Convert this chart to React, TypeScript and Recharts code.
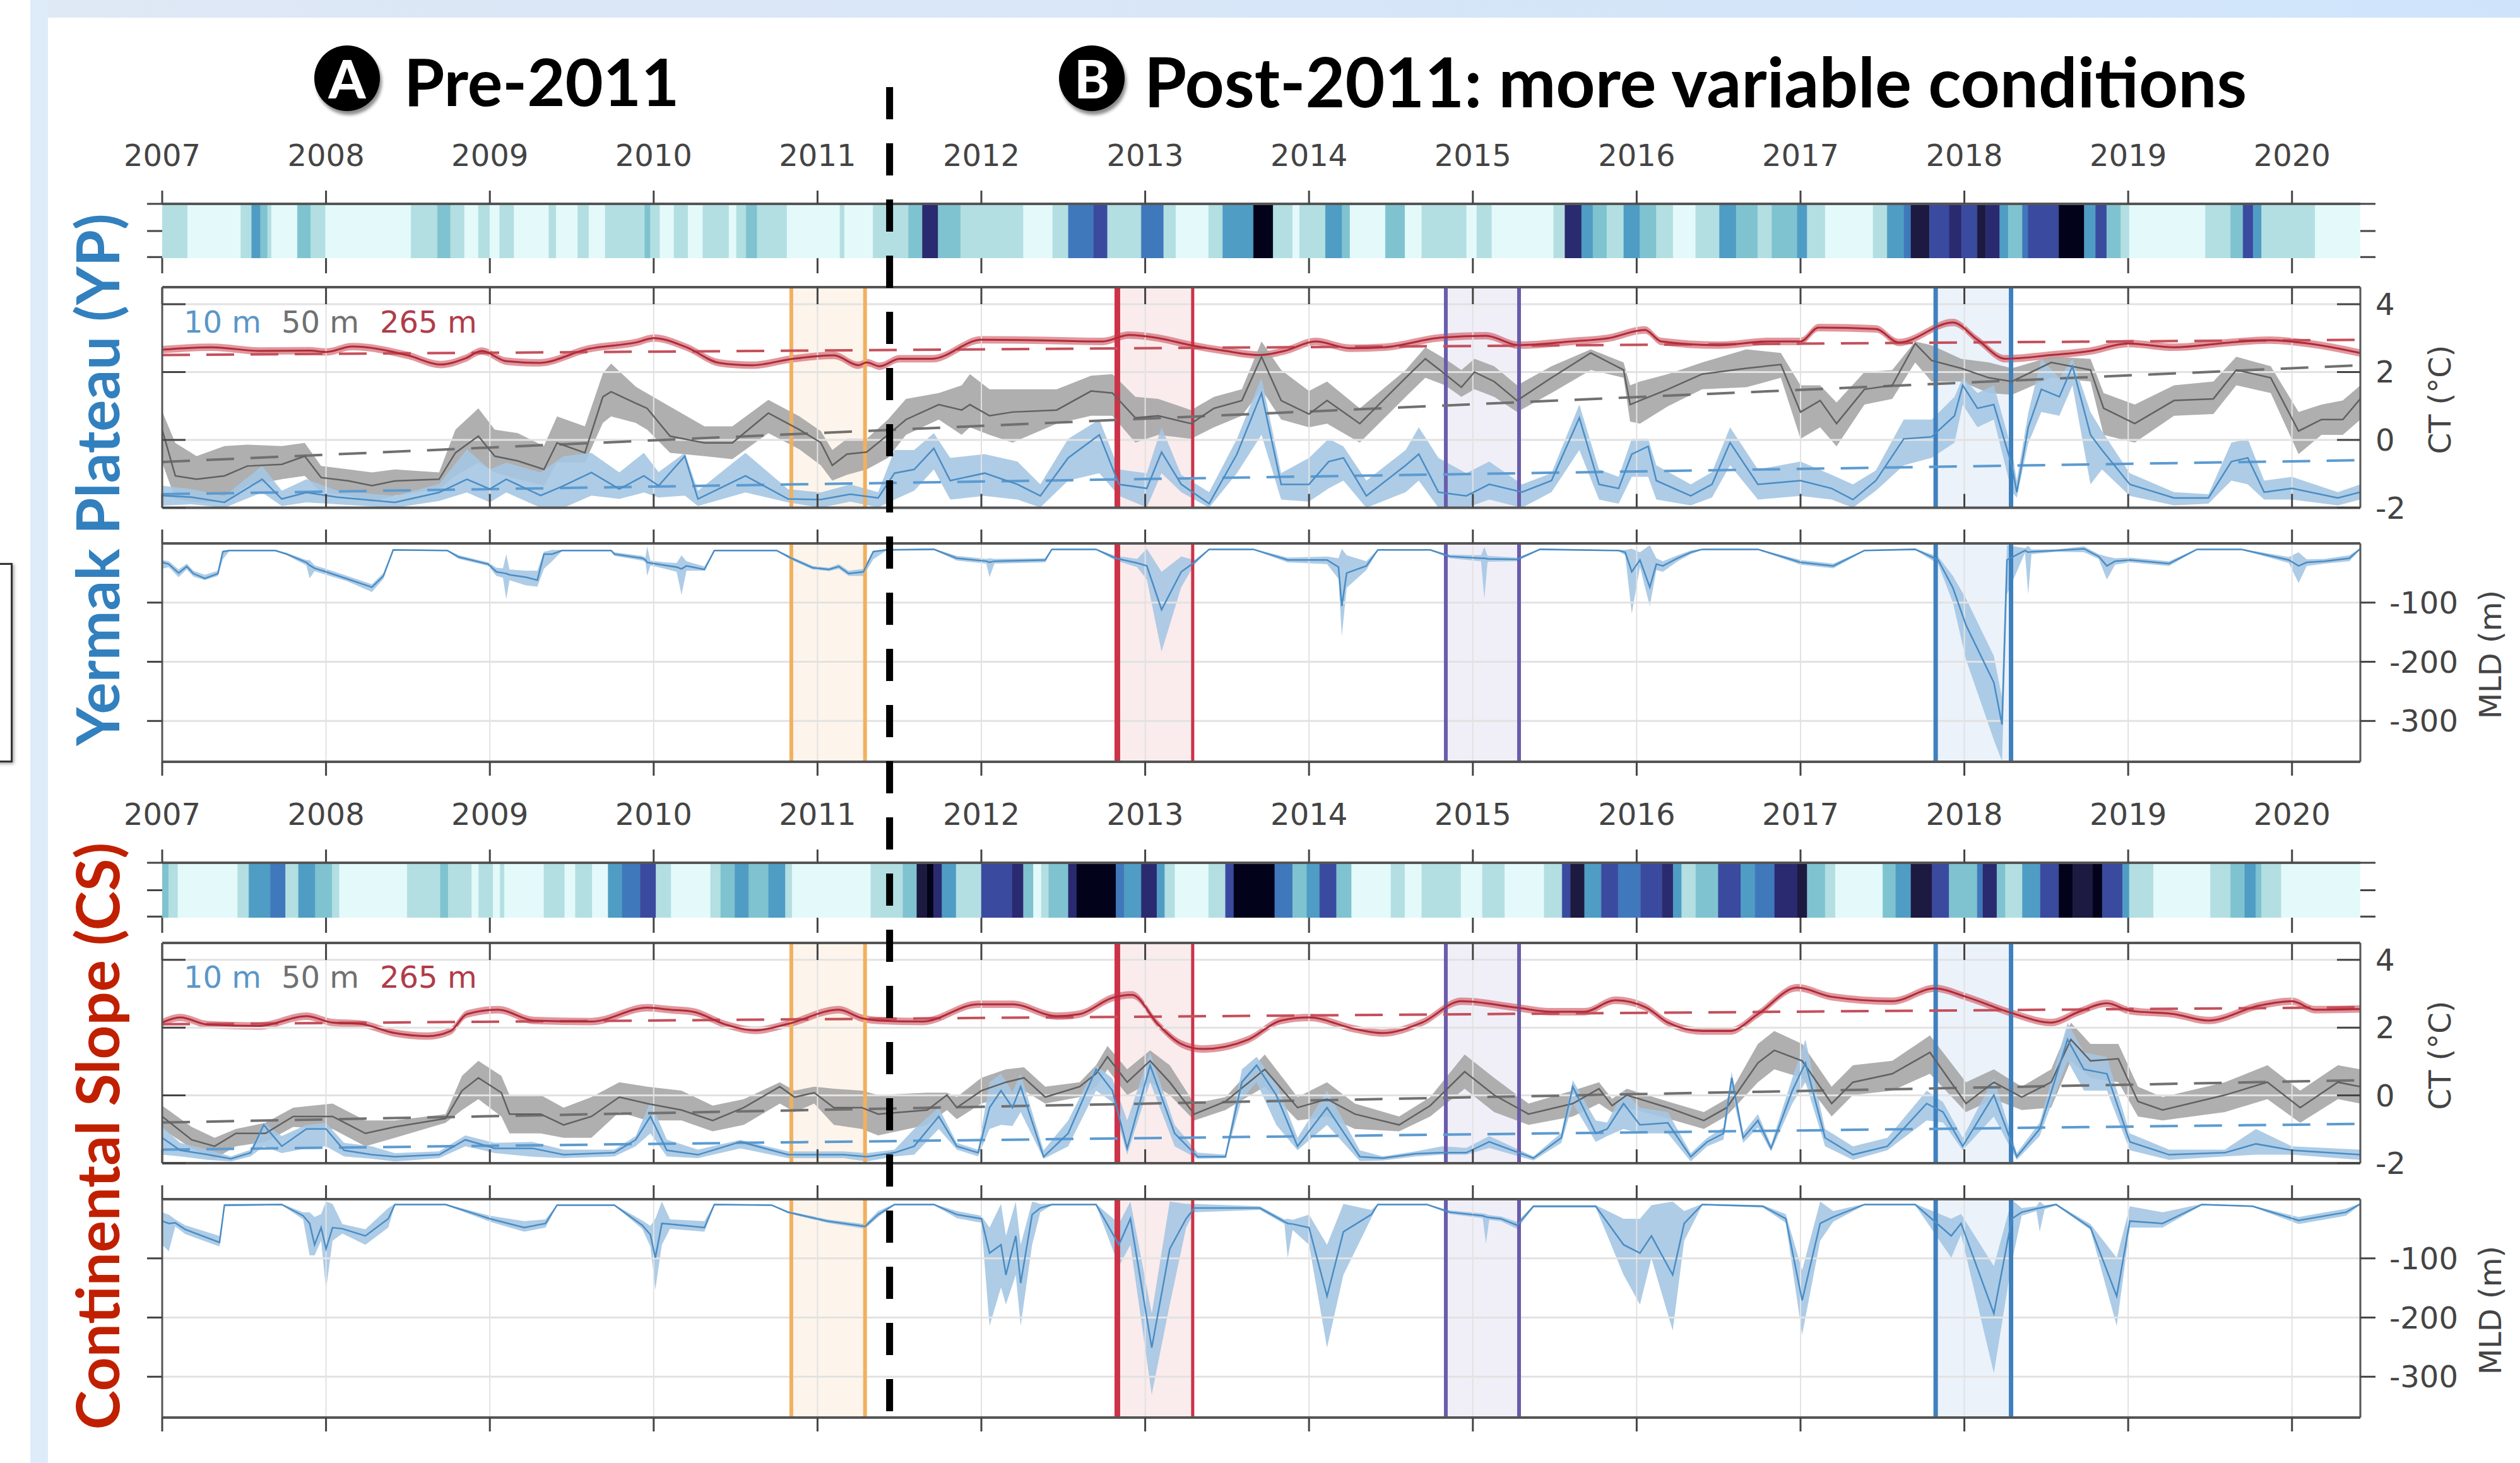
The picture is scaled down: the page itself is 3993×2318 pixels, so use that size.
import React from "react";
import { ComposedChart, Line, Area, XAxis, YAxis, ReferenceArea, ReferenceLine } from "recharts";

type Row = number[];

const yearTicks = [2007, 2008, 2009, 2010, 2011, 2012, 2013, 2014, 2015, 2016, 2017, 2018, 2019, 2020];
const ctTicks = [-2, 0, 2, 4];
const mldTicks = [-300, -200, -100];
const stripTicks = [0.02, 0.5, 1];
const xEnd = 2020.417;

const stripColors = ["#e4fafa", "#b3dfe2", "#7fc2d0", "#4f9cc4", "#4078bc", "#3a4a9e", "#2a2a70", "#1c1a40", "#02021a"];

// [start year, colour level]
const ypStrip: Row[] = [[2007,1],[2007.155,0],[2007.48,1],[2007.546,3],[2007.6,2],[2007.643,1],[2007.667,0],[2007.825,2],[2007.907,1],[2007.997,0],[2008.519,1],[2008.68,2],[2008.76,1],[2008.845,0],[2008.93,1],[2009,0],[2009.06,1],[2009.148,0],[2009.36,1],[2009.405,0],[2009.536,1],[2009.605,0],[2009.704,1],[2009.945,2],[2009.98,1],[2010.038,0],[2010.124,1],[2010.21,0],[2010.3,1],[2010.46,0],[2010.505,1],[2010.564,2],[2010.632,1],[2010.814,0],[2011.137,1],[2011.165,0],[2011.339,1],[2011.555,2],[2011.64,6],[2011.736,2],[2011.873,1],[2012.257,0],[2012.435,1],[2012.531,4],[2012.685,5],[2012.77,1],[2012.976,4],[2013.113,1],[2013.188,0],[2013.387,1],[2013.473,3],[2013.661,8],[2013.781,1],[2013.9,0],[2013.942,1],[2014.1,3],[2014.202,2],[2014.25,0],[2014.466,2],[2014.586,0],[2014.688,1],[2014.962,0],[2015.024,1],[2015.116,0],[2015.493,1],[2015.562,6],[2015.664,3],[2015.733,2],[2015.818,1],[2015.921,3],[2016.02,2],[2016.12,1],[2016.223,0],[2016.36,1],[2016.505,3],[2016.608,2],[2016.739,1],[2016.825,2],[2016.98,3],[2017.041,1],[2017.151,0],[2017.443,1],[2017.529,3],[2017.632,4],[2017.674,7],[2017.787,5],[2017.907,6],[2017.983,5],[2018.079,7],[2018.131,6],[2018.216,3],[2018.268,2],[2018.354,4],[2018.388,5],[2018.577,8],[2018.732,3],[2018.801,5],[2018.869,2],[2018.955,1],[2019.007,0],[2019.471,1],[2019.625,2],[2019.701,5],[2019.763,3],[2019.814,1],[2020.141,0]];

const csStrip: Row[] = [[2007,2],[2007.04,1],[2007.096,0],[2007.46,1],[2007.529,3],[2007.66,4],[2007.753,1],[2007.832,3],[2007.935,2],[2008.038,1],[2008.082,0],[2008.495,1],[2008.698,2],[2008.746,1],[2008.89,0],[2008.931,1],[2009.02,0],[2009.062,1],[2009.089,0],[2009.33,1],[2009.457,0],[2009.522,1],[2009.625,0],[2009.722,3],[2009.808,4],[2009.918,5],[2010.014,1],[2010.107,0],[2010.347,1],[2010.409,2],[2010.495,3],[2010.581,2],[2010.701,3],[2010.804,1],[2010.845,0],[2011.325,1],[2011.521,2],[2011.606,7],[2011.668,8],[2011.709,6],[2011.76,3],[2011.846,1],[2012,5],[2012.188,6],[2012.257,2],[2012.318,0],[2012.366,1],[2012.411,2],[2012.531,6],[2012.582,8],[2012.822,4],[2012.873,3],[2012.976,6],[2013.072,3],[2013.12,1],[2013.182,0],[2013.387,1],[2013.49,5],[2013.541,8],[2013.791,4],[2013.9,2],[2013.986,3],[2014.065,5],[2014.168,2],[2014.26,0],[2014.5,1],[2014.586,0],[2014.688,1],[2014.928,0],[2015.058,1],[2015.195,0],[2015.435,1],[2015.545,5],[2015.596,7],[2015.682,3],[2015.784,5],[2015.887,4],[2016.024,5],[2016.155,6],[2016.223,3],[2016.275,1],[2016.361,2],[2016.498,5],[2016.636,3],[2016.722,4],[2016.842,6],[2016.979,7],[2017.041,2],[2017.151,1],[2017.213,0],[2017.502,2],[2017.581,3],[2017.674,7],[2017.804,5],[2017.907,2],[2018.079,4],[2018.113,6],[2018.199,2],[2018.251,1],[2018.354,3],[2018.464,5],[2018.577,8],[2018.663,7],[2018.784,8],[2018.842,5],[2018.966,3],[2019.007,1],[2019.155,0],[2019.502,1],[2019.625,2],[2019.711,3],[2019.78,2],[2019.814,1],[2019.935,0]];

// [year, mean] rows for the 265 m series
const yp265: Row[] = [[2007,2.66],[2007.3,2.73],[2007.6,2.62],[2007.9,2.63],[2008,2.59],[2008.16,2.75],[2008.5,2.49],[2008.7,2.22],[2008.85,2.4],[2008.95,2.62],[2009.1,2.32],[2009.3,2.27],[2009.6,2.68],[2009.9,2.88],[2010,3],[2010.2,2.73],[2010.4,2.27],[2010.6,2.2],[2010.85,2.39],[2011.1,2.49],[2011.25,2.2],[2011.3,2.28],[2011.38,2.17],[2011.5,2.39],[2011.7,2.39],[2012,2.95],[2012.4,2.93],[2012.74,2.9],[2012.9,3.09],[2013.08,3],[2013.28,2.79],[2013.49,2.62],[2013.7,2.5],[2013.85,2.62],[2014.04,2.9],[2014.25,2.7],[2014.46,2.73],[2014.8,3.01],[2015.08,3.07],[2015.28,2.79],[2015.6,2.9],[2015.83,3],[2016.05,3.24],[2016.15,2.9],[2016.5,2.79],[2016.8,2.9],[2017,2.9],[2017.11,3.31],[2017.46,3.27],[2017.6,2.87],[2017.93,3.46],[2018.08,2.95],[2018.25,2.39],[2018.53,2.5],[2018.77,2.62],[2019,2.84],[2019.28,2.73],[2019.62,2.87],[2019.86,2.94],[2020.1,2.84],[2020.417,2.56]];

const cs265: Row[] = [[2007,2.15],[2007.11,2.3],[2007.28,2.09],[2007.59,2.05],[2007.88,2.34],[2008.04,2.15],[2008.21,2.11],[2008.42,1.84],[2008.62,1.75],[2008.76,1.9],[2008.86,2.4],[2009.05,2.53],[2009.27,2.21],[2009.62,2.18],[2009.96,2.59],[2010.1,2.53],[2010.24,2.47],[2010.44,2.09],[2010.62,1.92],[2010.82,2.11],[2011.13,2.53],[2011.27,2.28],[2011.37,2.21],[2011.64,2.18],[2011.98,2.69],[2012.19,2.69],[2012.46,2.34],[2012.6,2.4],[2012.8,2.88],[2012.92,2.97],[2013.08,2.09],[2013.22,1.52],[2013.35,1.37],[2013.63,1.65],[2013.83,2.21],[2014,2.3],[2014.28,1.96],[2014.45,1.84],[2014.69,2.15],[2014.93,2.78],[2015.27,2.59],[2015.48,2.47],[2015.68,2.47],[2015.87,2.81],[2016.06,2.59],[2016.19,2.15],[2016.4,1.9],[2016.57,1.9],[2016.74,2.4],[2016.98,3.18],[2017.19,2.91],[2017.56,2.78],[2017.82,3.16],[2018.01,2.91],[2018.29,2.43],[2018.53,2.15],[2018.7,2.47],[2018.87,2.72],[2019.01,2.5],[2019.28,2.4],[2019.49,2.21],[2019.8,2.65],[2020,2.78],[2020.14,2.53],[2020.417,2.55]];

// [year, mean, low, high]
const yp50: Row[] = [[2007,0.3,-0.67,0.84],[2007.08,-1.06,-1.74,-0.09],[2007.21,-1.16,-1.84,-0.48],[2007.38,-1.06,-1.84,-0.18],[2007.52,-0.77,-1.35,-0.14],[2007.73,-0.72,-1.16,-0.18],[2007.87,-0.48,-1.06,-0.09],[2007.97,-1.11,-1.55,-0.77],[2008.14,-1.21,-1.64,-0.87],[2008.28,-1.35,-1.84,-0.96],[2008.42,-1.21,-1.64,-0.87],[2008.69,-1.16,-1.45,-0.96],[2008.79,-0.38,-1.06,0.3],[2008.93,0.11,-0.67,0.93],[2009.03,-0.48,-0.96,0.3],[2009.17,-0.62,-1.16,0.2],[2009.33,-0.87,-1.35,-0.18],[2009.41,-0.09,-0.67,0.69],[2009.58,-0.38,-0.67,0.4],[2009.69,1.27,0.5,1.96],[2009.74,1.42,0.69,2.25],[2009.89,1.08,0.5,1.57],[2009.96,0.93,0.3,1.37],[2010.1,0.11,-0.38,0.98],[2010.31,-0.09,-0.48,0.4],[2010.48,-0.09,-0.57,0.4],[2010.7,0.79,0.2,1.18],[2010.89,0.3,-0.28,0.69],[2011.02,-0.08,-0.75,0.26],[2011.09,-0.75,-1.2,-0.3],[2011.18,-0.42,-1.03,0.03],[2011.3,-0.36,-0.87,0.03],[2011.43,0.15,-0.53,0.6],[2011.54,0.6,0.15,1.21],[2011.74,1.04,0.6,1.38],[2011.88,0.88,0.15,1.61],[2011.93,1.04,0.37,1.94],[2012.05,0.71,0.15,1.49],[2012.19,0.82,-0.08,1.49],[2012.46,0.88,0.48,1.49],[2012.67,1.44,0.71,1.89],[2012.8,1.38,0.71,1.94],[2012.94,0.65,-0.08,1.27],[2013.08,0.71,0.15,1.21],[2013.28,0.48,0.03,0.88],[2013.42,0.93,0.37,1.27],[2013.59,1.16,0.71,1.49],[2013.71,2.45,1.49,2.9],[2013.83,1.16,0.6,2.06],[2014,0.76,0.37,1.44],[2014.11,1.16,0.48,1.72],[2014.31,0.48,-0.08,0.93],[2014.59,1.83,1.27,2.06],[2014.71,2.39,1.83,2.73],[2014.83,1.94,1.61,2.39],[2014.93,1.55,1.27,2.06],[2015.01,2,1.49,2.39],[2015.13,1.72,1.27,2.17],[2015.27,1.16,0.82,1.61],[2015.48,1.83,1.38,2.17],[2015.72,2.56,2.06,2.67],[2015.92,2.06,1.83,2.28],[2015.96,1.04,0.54,1.61],[2016.02,1.16,0.48,1.72],[2016.19,1.49,0.99,1.94],[2016.4,1.94,1.49,2.28],[2016.67,2.11,1.55,2.67],[2016.88,2.22,1.83,2.56],[2017,0.82,0.03,1.61],[2017.12,1.16,0.37,1.61],[2017.22,0.48,-0.19,1.1],[2017.39,1.49,1.04,2],[2017.56,1.61,1.21,2.06],[2017.7,2.84,2.28,2.9],[2017.8,2.34,1.72,2.79],[2017.98,2.11,1.72,2.39],[2018.15,1.83,1.38,2.28],[2018.29,1.72,1.33,2.11],[2018.53,2.28,1.83,2.45],[2018.77,2.06,1.72,2.39],[2018.85,0.93,0.15,1.38],[2019.04,0.48,-0.08,1.04],[2019.28,1.16,0.71,1.61],[2019.52,1.21,0.76,1.72],[2019.66,2.06,1.61,2.45],[2019.87,1.83,1.38,2.17],[2020.04,0.26,-0.42,0.82],[2020.18,0.6,0.15,1.04],[2020.31,0.6,0.15,1.16],[2020.417,1.21,0.6,1.61]];

const yp10: Row[] = [[2007,-1.64,-1.94,-1.35],[2007.18,-1.69,-1.9,-1.45],[2007.38,-1.84,-2,-1.65],[2007.61,-1.16,-1.55,-0.77],[2007.73,-1.74,-1.95,-1.5],[2007.88,-1.55,-1.84,-1.16],[2008.07,-1.69,-1.9,-1.5],[2008.42,-1.84,-2,-1.65],[2008.69,-1.55,-1.8,-1.3],[2008.86,-1.16,-1.55,-0.28],[2009,-1.45,-1.84,-0.87],[2009.1,-1.16,-1.55,-0.67],[2009.31,-1.64,-2,-0.96],[2009.45,-1.35,-2,-0.48],[2009.62,-0.96,-1.64,-0.38],[2009.79,-1.45,-1.74,-0.96],[2009.94,-1.06,-1.55,-0.38],[2010.03,-1.35,-1.7,-0.95],[2010.19,-0.48,-1.64,-0.38],[2010.27,-1.74,-1.95,-1.5],[2010.56,-1.06,-1.55,-0.38],[2010.82,-1.74,-1.84,-1.45],[2011.02,-1.76,-2,-1.55],[2011.2,-1.6,-1.82,-1.31],[2011.37,-1.71,-1.99,-1.54],[2011.47,-0.98,-1.76,-0.3],[2011.59,-0.87,-1.5,-0.3],[2011.71,-0.25,-0.87,0.2],[2011.81,-1.2,-1.76,-0.53],[2012.02,-0.98,-1.65,-0.42],[2012.22,-1.31,-1.76,-0.64],[2012.36,-1.65,-1.99,-1.31],[2012.53,-0.53,-1.2,0.03],[2012.72,0.15,-0.98,0.6],[2012.84,-1.31,-1.65,-0.87],[2013.01,-1.43,-1.99,-0.98],[2013.1,-0.36,-0.98,0.37],[2013.22,-1.31,-1.54,-1.03],[2013.39,-1.88,-2,-1.54],[2013.56,-0.42,-0.98,0.03],[2013.71,1.38,0.15,1.83],[2013.83,-1.31,-1.76,-0.98],[2014,-1.31,-1.82,-0.53],[2014.12,-0.64,-1.43,0.03],[2014.21,-0.53,-1.2,-0.19],[2014.35,-1.65,-2,-1.2],[2014.59,-0.75,-1.54,-0.3],[2014.67,-0.42,-1.2,0.37],[2014.79,-1.54,-2,-0.53],[2014.96,-1.65,-2,-0.98],[2015.1,-1.31,-1.76,-0.64],[2015.3,-1.54,-2,-1.31],[2015.48,-1.2,-1.54,-0.98],[2015.65,0.65,-0.3,1.04],[2015.77,-1.31,-1.76,-0.87],[2015.89,-1.43,-1.88,-1.09],[2015.97,-0.42,-1.09,0.03],[2016.07,-0.19,-1.09,0.03],[2016.12,-1.2,-1.76,-0.75],[2016.33,-1.65,-1.93,-1.31],[2016.46,-1.31,-1.7,-0.95],[2016.57,-0.08,-0.75,0.37],[2016.74,-1.31,-1.76,-0.87],[2017,-1.2,-1.65,-0.64],[2017.19,-1.43,-1.76,-1.03],[2017.32,-1.76,-2,-1.31],[2017.46,-1.2,-1.5,-0.9],[2017.63,0.03,-0.75,0.6],[2017.8,0.09,-0.53,0.6],[2017.94,0.71,-0.08,1.27],[2017.99,1.61,1.04,1.83],[2018.08,0.93,0.37,1.38],[2018.18,1.04,0.6,1.61],[2018.29,-0.75,-1.54,-0.3],[2018.32,-1.54,-1.7,-1.2],[2018.39,0.37,-0.1,0.8],[2018.47,1.49,0.82,2.39],[2018.58,1.27,0.71,1.83],[2018.66,2.17,1.61,2.39],[2018.77,0.15,-1.31,0.82],[2018.84,-0.3,-0.87,0.26],[2019.01,-1.31,-1.65,-0.98],[2019.28,-1.71,-1.93,-1.54],[2019.49,-1.71,-1.88,-1.6],[2019.63,-0.64,-1.2,-0.08],[2019.73,-0.53,-1.31,0.03],[2019.83,-1.54,-1.76,-1.2],[2020,-1.43,-1.76,-1.09],[2020.28,-1.71,-1.93,-1.54],[2020.417,-1.54,-1.76,-1.31]];

const cs50: Row[] = [[2007,-0.62,-0.99,-0.3],[2007.18,-1.31,-1.56,-0.93],[2007.32,-1.5,-1.87,-1.25],[2007.45,-1.12,-1.5,-0.99],[2007.63,-1.12,-1.37,-0.81],[2007.8,-0.62,-0.93,-0.36],[2008.04,-0.62,-0.99,-0.24],[2008.24,-1.12,-1.5,-0.74],[2008.42,-0.93,-1.25,-0.74],[2008.73,-0.68,-0.81,-0.55],[2008.83,0.14,-0.43,0.58],[2008.93,0.52,-0.11,1.02],[2009.07,0.08,-0.62,0.58],[2009.12,-0.55,-1.12,0.01],[2009.31,-0.55,-1.12,0.01],[2009.45,-0.87,-1.25,-0.36],[2009.62,-0.62,-1.25,-0.05],[2009.79,-0.05,-0.49,0.39],[2009.96,-0.24,-0.74,0.26],[2010.17,-0.43,-0.74,0.14],[2010.36,-0.74,-1.06,-0.3],[2010.55,-0.36,-0.87,-0.11],[2010.77,0.26,-0.24,0.39],[2010.86,-0.05,-0.49,0.14],[2010.98,0.08,-0.24,0.26],[2011.1,-0.36,-0.87,0.2],[2011.27,-0.36,-0.99,0.14],[2011.37,-0.55,-1.18,0.01],[2011.67,-0.43,-0.87,0.08],[2011.79,0.01,-0.43,0.08],[2011.85,-0.36,-0.7,-0.05],[2012,0.14,-0.24,0.52],[2012.15,0.39,-0.05,0.77],[2012.26,0.52,0.14,0.83],[2012.39,-0.05,-0.24,0.26],[2012.6,0.26,-0.05,0.39],[2012.7,0.64,0.26,0.89],[2012.77,1.14,0.77,1.46],[2012.89,0.39,0.01,0.77],[2013.03,1.02,0.39,1.33],[2013.15,0.39,0.01,0.89],[2013.3,-0.55,-0.74,-0.24],[2013.49,-0.18,-0.43,-0.05],[2013.73,0.77,0.26,1.21],[2013.93,-0.36,-0.74,-0.05],[2014.11,-0.11,-0.62,0.39],[2014.28,-0.55,-0.99,-0.24],[2014.55,-0.87,-1.06,-0.62],[2014.74,-0.3,-0.62,-0.05],[2014.95,0.7,0.2,1.21],[2015.13,0.01,-0.49,0.52],[2015.34,-0.55,-0.87,-0.24],[2015.61,-0.24,-0.62,0.14],[2015.77,0.2,-0.24,0.39],[2015.85,-0.3,-0.5,-0.1],[2015.94,0.01,-0.36,0.2],[2016.19,-0.36,-0.68,-0.18],[2016.41,-0.74,-0.99,-0.49],[2016.55,-0.36,-0.6,-0.1],[2016.74,0.96,0.39,1.52],[2016.84,1.33,0.77,1.9],[2017.01,1.02,0.52,1.52],[2017.19,-0.24,-0.62,0.26],[2017.32,0.39,0.01,0.89],[2017.56,0.64,0.14,1.02],[2017.79,1.27,0.64,1.77],[2018.01,-0.24,-0.49,0.39],[2018.18,0.39,-0.11,0.77],[2018.35,-0.05,-0.43,0.26],[2018.53,0.39,-0.36,0.77],[2018.65,1.65,1.02,2.15],[2018.77,1.02,0.52,1.52],[2018.94,1.08,0.39,1.52],[2019.06,-0.18,-0.62,0.26],[2019.21,-0.43,-0.74,-0.05],[2019.59,0.01,-0.49,0.39],[2019.85,0.39,-0.11,0.89],[2020.05,-0.36,-0.81,0.14],[2020.28,0.39,-0.11,0.89],[2020.417,0.26,-0.24,0.77]];

const cs10: Row[] = [[2007,-1.25,-1.75,-0.93],[2007.11,-1.62,-1.8,-1.4],[2007.28,-1.75,-1.9,-1.6],[2007.42,-1.87,-1.95,-1.8],[2007.54,-1.69,-1.8,-1.6],[2007.62,-0.87,-1.5,-0.81],[2007.73,-1.5,-1.7,-1.2],[2007.88,-0.99,-1.56,-0.87],[2008,-0.99,-1.5,-0.81],[2008.11,-1.62,-1.8,-1.4],[2008.28,-1.75,-1.87,-1.5],[2008.42,-1.81,-1.95,-1.7],[2008.69,-1.75,-1.85,-1.65],[2008.85,-1.31,-1.5,-1.18],[2009.03,-1.56,-1.7,-1.4],[2009.26,-1.56,-1.81,-1.37],[2009.45,-1.75,-1.85,-1.6],[2009.76,-1.69,-1.8,-1.6],[2009.89,-1.31,-1.5,-1.2],[2009.98,-0.62,-1.12,-0.18],[2010.08,-1.62,-1.8,-1.3],[2010.27,-1.75,-1.85,-1.6],[2010.53,-1.37,-1.56,-1.31],[2010.82,-1.75,-1.85,-1.65],[2011.16,-1.75,-1.85,-1.65],[2011.3,-1.81,-1.95,-1.7],[2011.47,-1.69,-1.8,-1.6],[2011.59,-1.5,-1.75,-0.99],[2011.74,-0.62,-0.99,-0.36],[2011.85,-1.5,-1.6,-1.4],[2011.98,-1.69,-1.8,-1.6],[2012.05,-0.36,-0.99,0.39],[2012.12,0.14,-0.87,0.64],[2012.19,-0.36,-0.9,0.1],[2012.24,0.26,-0.49,0.64],[2012.38,-1.81,-1.87,-1.62],[2012.53,-1.12,-1.5,-0.74],[2012.7,0.77,0.14,0.89],[2012.8,0.14,-0.2,0.5],[2012.89,-1.56,-1.75,-0.74],[2013.03,0.89,0.39,1.27],[2013.18,-1.12,-1.5,-0.87],[2013.32,-1.81,-1.87,-1.69],[2013.49,-1.81,-1.85,-1.75],[2013.59,0.39,-0.11,0.77],[2013.68,0.89,0.39,1.14],[2013.8,0.01,-0.87,0.39],[2013.93,-1.5,-1.62,-1.25],[2014.11,-0.36,-0.87,0.14],[2014.31,-1.81,-1.94,-1.62],[2014.45,-1.85,-1.92,-1.8],[2014.65,-1.72,-1.8,-1.65],[2014.81,-1.69,-1.75,-1.5],[2014.96,-1.69,-1.75,-1.55],[2015.1,-1.37,-1.55,-1.2],[2015.37,-1.85,-1.92,-1.8],[2015.54,-1.25,-1.4,-1.1],[2015.61,0.26,-0.24,0.45],[2015.75,-1.12,-1.37,-0.74],[2015.82,-0.99,-1.2,-0.8],[2015.92,-0.24,-0.99,0.14],[2016.02,-0.87,-1.12,-0.36],[2016.19,-0.81,-1.12,-0.49],[2016.33,-1.81,-1.95,-1.7],[2016.43,-1.37,-1.5,-1.25],[2016.53,-1.12,-1.3,-0.95],[2016.58,0.52,0.14,0.7],[2016.65,-1.25,-1.4,-1.1],[2016.74,-0.74,-0.95,-0.55],[2016.82,-1.56,-1.65,-1.45],[2016.95,0.14,-0.24,0.52],[2017.03,0.96,0.39,1.65],[2017.15,-1.25,-1.5,-0.99],[2017.32,-1.75,-1.9,-1.5],[2017.53,-1.5,-1.62,-1.25],[2017.77,-0.24,-0.74,0.14],[2017.87,-0.49,-0.8,-0.2],[2017.99,-1.5,-1.62,-1.25],[2018.18,0.01,-0.62,0.52],[2018.32,-1.81,-1.9,-1.7],[2018.46,-0.99,-1.2,-0.8],[2018.63,1.65,1.02,2.15],[2018.73,0.77,0.14,1.27],[2018.87,0.64,0.14,1.14],[2019.01,-1.37,-1.62,-1.12],[2019.25,-1.75,-1.9,-1.6],[2019.59,-1.69,-1.8,-1.6],[2019.78,-1.43,-1.75,-0.99],[2020,-1.62,-1.75,-1.5],[2020.417,-1.75,-1.9,-1.6]];

const ypMld: Row[] = [[2007,-32,-43,-28],[2007.04,-35,-40,-30],[2007.1,-50,-57,-44],[2007.15,-39,-44,-34],[2007.19,-51,-56,-46],[2007.26,-59,-62,-53],[2007.34,-51,-55,-46],[2007.37,-14,-27,-12],[2007.41,-12,-13,-11],[2007.69,-12,-13,-11],[2007.76,-18,-20,-16],[2007.88,-32,-37,-28],[2007.9,-37,-59,-28],[2007.93,-42,-47,-37],[2008,-48,-53,-43],[2008.13,-60,-64,-55],[2008.28,-74,-82,-69],[2008.35,-55,-60,-50],[2008.41,-11,-12,-10],[2008.74,-12,-13,-11],[2008.81,-23,-26,-20],[2008.99,-35,-38,-32],[2009.04,-48,-55,-41],[2009.08,-50,-58,-42],[2009.1,-51,-94,-18],[2009.12,-53,-62,-44],[2009.22,-57,-71,-46],[2009.29,-62,-73,-46],[2009.33,-18,-43,-14],[2009.38,-18,-30,-11],[2009.44,-12,-13,-11],[2009.74,-12,-13,-11],[2009.76,-18,-21,-15],[2009.93,-25,-29,-21],[2009.95,-28,-32,-24],[2009.96,-32,-55,-5],[2009.98,-33,-37,-29],[2010.07,-37,-43,-32],[2010.14,-40,-48,-33],[2010.17,-43,-87,-20],[2010.2,-38,-46,-30],[2010.31,-44,-46,-39],[2010.37,-12,-13,-11],[2010.75,-12,-13,-11],[2010.84,-25,-28,-22],[2010.97,-41,-44,-38],[2011.07,-44,-47,-41],[2011.13,-39,-43,-35],[2011.19,-51,-55,-46],[2011.28,-48,-55,-43],[2011.34,-14,-27,-12],[2011.42,-11,-12,-10],[2011.71,-10,-11,-9],[2011.85,-25,-29,-21],[2012.03,-30,-34,-26],[2012.05,-32,-57,-25],[2012.08,-30,-34,-26],[2012.39,-28,-32,-25],[2012.43,-10,-11,-9],[2012.7,-10,-11,-9],[2012.82,-25,-29,-21],[2012.95,-33,-40,-26],[2013.01,-38,-61,-9],[2013.1,-112,-183,-48],[2013.22,-48,-74,-22],[2013.3,-32,-36,-28],[2013.39,-10,-11,-9],[2013.66,-10,-11,-9],[2013.87,-28,-32,-24],[2014.11,-28,-35,-22],[2014.18,-40,-60,-25],[2014.2,-106,-157,-9],[2014.23,-50,-75,-20],[2014.35,-38,-45,-30],[2014.42,-11,-12,-10],[2014.74,-11,-12,-10],[2014.86,-22,-25,-19],[2015.05,-25,-30,-20],[2015.07,-25,-93,-6],[2015.09,-26,-31,-21],[2015.27,-27,-30,-24],[2015.41,-10,-11,-9],[2015.89,-12,-13,-11],[2015.93,-15,-20,-11],[2015.97,-48,-119,-9],[2016.02,-28,-40,-15],[2016.08,-74,-106,-3],[2016.12,-35,-45,-25],[2016.16,-38,-48,-30],[2016.25,-25,-30,-20],[2016.33,-15,-18,-12],[2016.4,-10,-11,-9],[2016.74,-10,-11,-9],[2017,-32,-36,-28],[2017.2,-38,-42,-34],[2017.39,-12,-13,-11],[2017.7,-10,-11,-9],[2017.84,-28,-35,-22],[2017.93,-75,-100,-55],[2018.01,-138,-196,-93],[2018.18,-235,-332,-190],[2018.23,-306,-368,-261],[2018.26,-28,-86,-3],[2018.37,-12,-16,-8],[2018.39,-15,-86,-4],[2018.41,-14,-18,-10],[2018.56,-12,-14,-10],[2018.73,-9,-15,-5],[2018.82,-22,-26,-18],[2018.87,-38,-61,-22],[2018.92,-30,-36,-25],[2019.01,-28,-32,-24],[2019.25,-34,-38,-30],[2019.42,-10,-11,-9],[2019.69,-10,-11,-9],[2019.98,-28,-33,-23],[2020.04,-38,-67,-15],[2020.09,-32,-38,-27],[2020.2,-30,-34,-26],[2020.35,-25,-30,-20],[2020.417,-9,-10,-8]];

const csMld: Row[] = [[2007,-37,-77,-22],[2007.04,-41,-88,-26],[2007.08,-40,-46,-34],[2007.14,-51,-59,-44],[2007.35,-73,-80,-62],[2007.38,-10,-12,-8],[2007.73,-9,-10,-8],[2007.86,-28,-34,-22],[2007.9,-41,-95,-22],[2007.93,-77,-95,-30],[2007.97,-48,-70,-25],[2008,-84,-153,-4],[2008.04,-48,-70,-8],[2008.1,-50,-58,-42],[2008.24,-62,-77,-51],[2008.38,-33,-48,-15],[2008.42,-9,-10,-8],[2008.73,-9,-10,-8],[2009,-33,-38,-28],[2009.21,-48,-55,-37],[2009.34,-41,-48,-34],[2009.41,-10,-11,-9],[2009.76,-10,-11,-9],[2009.93,-44,-50,-36],[2009.98,-60,-80,-45],[2010.01,-99,-153,-33],[2010.05,-41,-77,-4],[2010.1,-42,-50,-34],[2010.31,-48,-55,-37],[2010.37,-9,-10,-8],[2010.72,-10,-11,-9],[2010.82,-22,-24,-20],[2011.06,-37,-40,-34],[2011.29,-46,-50,-42],[2011.37,-26,-30,-20],[2011.47,-9,-10,-8],[2011.71,-9,-10,-8],[2011.85,-26,-32,-20],[2012,-33,-40,-28],[2012.05,-91,-214,-48],[2012.12,-77,-149,-8],[2012.15,-128,-178,-62],[2012.21,-62,-128,-4],[2012.24,-142,-214,-77],[2012.31,-26,-77,-4],[2012.36,-15,-22,-8],[2012.43,-9,-10,-8],[2012.7,-9,-10,-8],[2012.84,-77,-113,-41],[2012.91,-33,-77,-4],[2013.04,-251,-330,-193],[2013.15,-84,-178,-4],[2013.25,-33,-48,-8],[2013.3,-15,-22,-8],[2013.7,-15,-18,-12],[2013.85,-38,-42,-34],[2013.87,-41,-99,-33],[2013.9,-42,-52,-35],[2014,-48,-77,-26],[2014.11,-164,-251,-77],[2014.21,-55,-128,-8],[2014.38,-26,-32,-18],[2014.42,-9,-10,-8],[2014.72,-9,-10,-8],[2014.86,-22,-25,-19],[2015.06,-28,-32,-24],[2015.08,-30,-75,-25],[2015.1,-31,-35,-27],[2015.17,-33,-37,-29],[2015.27,-44,-50,-38],[2015.37,-12,-14,-10],[2015.75,-12,-14,-10],[2015.92,-77,-128,-33],[2016.02,-91,-178,-33],[2016.09,-62,-100,-10],[2016.22,-128,-222,-4],[2016.29,-41,-70,-20],[2016.4,-9,-10,-8],[2016.77,-12,-14,-10],[2016.91,-33,-40,-25],[2017.01,-171,-229,-120],[2017.12,-41,-70,-4],[2017.2,-30,-38,-20],[2017.39,-9,-10,-8],[2017.7,-9,-10,-8],[2017.92,-62,-99,-33],[2017.98,-41,-60,-25],[2018.18,-193,-294,-113],[2018.29,-33,-106,-1],[2018.35,-22,-28,-15],[2018.44,-16,-20,-12],[2018.46,-15,-55,-4],[2018.49,-13,-17,-10],[2018.56,-9,-10,-8],[2018.77,-48,-52,-42],[2018.93,-164,-214,-99],[2019.01,-37,-48,-12],[2019.21,-41,-48,-22],[2019.45,-9,-10,-8],[2019.76,-12,-13,-11],[2020.04,-36,-42,-30],[2020.33,-22,-28,-16],[2020.417,-8,-9,-7]];

// two-end trend lines [year, value]
const ypTrend10: Row[] = [[2007, -1.6], [2020.417, -0.6]];
const ypTrend50: Row[] = [[2007, -0.65], [2020.417, 2.2]];
const ypTrend265: Row[] = [[2007, 2.5], [2020.417, 2.95]];
const csTrend10: Row[] = [[2007, -1.6], [2020.417, -0.84]];
const csTrend50: Row[] = [[2007, -0.8], [2020.417, 0.45]];
const csTrend265: Row[] = [[2007, 2.1], [2020.417, 2.6]];

// shaded winters [start, end]
const spans = [
  { from: 2010.84, to: 2011.29, line: "#f0b060", fill: "#fdf3e8", w1: 6, w2: 6 },
  { from: 2012.83, to: 2013.29, line: "#cc3348", fill: "#f9e7ea", w1: 9, w2: 5 },
  { from: 2014.835, to: 2015.282, line: "#6a5cab", fill: "#edebf6", w1: 6, w2: 6 },
  { from: 2017.825, to: 2018.285, line: "#3d80bd", fill: "#e8f0f9", w1: 7, w2: 7 },
];

const plotLeft = 257;
const plotWidth = 3483;
const padL = 110;
const padR = 240;
const padT = 120;
const padB = 40;

const AXIS = "#555555";
const GRID = "#e2e2e2";

const bandRows = (rows: Row[], half = 0) =>
  rows.map((r) => ({
    x: r[0],
    m: r[1],
    band: r.length > 2 ? [r[2], r[3]] : [r[1] - half, r[1] + half],
  }));
const trendRows = (rows: Row[]) => rows.map((r) => ({ x: r[0], m: r[1] }));

// keeps the tick marks but draws no label
const noText = () => <g />;

function axes(yDomain: number[], yTicks: number[], o: { xSize: number[]; ySize: number; labels?: boolean; yLabels?: boolean; yMargin?: number; leftLine?: boolean; bottomLine?: boolean }) {
  const tickStyle = { stroke: "#444", strokeWidth: 3 };
  const lineStyle = { stroke: AXIS, strokeWidth: 4 };
  const textStyle = { fontSize: 48, fill: "#444", fontFamily: "DejaVu Sans" };
  return [
    <XAxis key="xb" xAxisId="b" orientation="bottom" type="number" dataKey="x" domain={[2007, xEnd]} allowDataOverflow ticks={yearTicks} interval={0} height={1} tick={noText} tickSize={o.xSize[1]} tickLine={tickStyle} axisLine={o.bottomLine === false ? false : lineStyle} />,
    <XAxis key="xt" xAxisId="t" orientation="top" type="number" dataKey="x" domain={[2007, xEnd]} allowDataOverflow ticks={yearTicks} interval={0} height={1} tick={o.labels ? textStyle : noText} tickMargin={39} tickSize={o.xSize[0]} tickLine={tickStyle} axisLine={lineStyle} tickFormatter={(v: number) => String(v)} />,
    <YAxis key="yl" yAxisId="l" orientation="left" type="number" domain={yDomain} allowDataOverflow ticks={yTicks} interval={0} width={1} tick={noText} tickSize={o.ySize} tickLine={tickStyle} axisLine={o.leftLine === false ? false : { stroke: AXIS, strokeWidth: 3 }} />,
    <YAxis key="yr" yAxisId="r" orientation="right" type="number" domain={yDomain} allowDataOverflow ticks={yTicks} interval={0} width={1} tick={o.yLabels ? textStyle : noText} tickMargin={o.yMargin} tickSize={o.ySize} tickLine={tickStyle} axisLine={o.leftLine === false ? false : { stroke: AXIS, strokeWidth: 3 }} />,
  ];
}

function Frame({ top, bottom, children }: { top: number; bottom: number; children: React.ReactNode }) {
  const h = bottom - top;
  return (
    <div style={{ position: "absolute", left: plotLeft - padL, top: top - padT }}>
      <ComposedChart width={plotWidth + padL + padR} height={h + padT + padB} data={[]} margin={{ left: padL - 1, right: padR - 1, top: padT - 1, bottom: padB - 1 }}>
        {children}
      </ComposedChart>
    </div>
  );
}

function Strip({ top, bottom, cells }: { top: number; bottom: number; cells: Row[] }) {
  return (
    <Frame top={top} bottom={bottom}>
      {axes([0, 1], stripTicks, { xSize: [21, 24], ySize: 24, labels: true, leftLine: false, bottomLine: false })}
      {cells.map((c, i) => (
        <ReferenceArea key={i} xAxisId="b" yAxisId="l" x1={c[0]} x2={i + 1 < cells.length ? cells[i + 1][0] : xEnd} y1={0} y2={1} fill={stripColors[c[1]]} fillOpacity={1} stroke={stripColors[c[1]]} strokeWidth={0.5} ifOverflow="hidden" />
      ))}
    </Frame>
  );
}

function grid(yTicks: number[]) {
  return [
    ...yearTicks.map((y) => <ReferenceLine key={"gx" + y} xAxisId="b" yAxisId="l" x={y} stroke={GRID} strokeWidth={2} />),
    ...yTicks.map((y) => <ReferenceLine key={"gy" + y} xAxisId="b" yAxisId="l" y={y} stroke={GRID} strokeWidth={3} />),
  ];
}

function spanMarks() {
  return spans.flatMap((s, i) => [
    <ReferenceArea key={"sa" + i} xAxisId="b" yAxisId="l" x1={s.from} x2={s.to} fill={s.fill} fillOpacity={0.85} stroke="none" />,
    <ReferenceLine key={"s1" + i} xAxisId="b" yAxisId="l" x={s.from} stroke={s.line} strokeWidth={s.w1} />,
    <ReferenceLine key={"s2" + i} xAxisId="b" yAxisId="l" x={s.to} stroke={s.line} strokeWidth={s.w2} />,
  ]);
}

const bandEl = (k: string, data: any[], fill: string, opacity: number, curve: any = "linear") => (
  <Area key={"b" + k} type={curve} data={data} xAxisId="b" yAxisId="l" dataKey="band" stroke="none" fill={fill} fillOpacity={opacity} dot={false} activeDot={false} isAnimationActive={false} legendType="none" />
);
const lineEl = (k: string, data: any[], color: string, width: number, dash?: string, curve: any = "linear") => (
  <Line key={"l" + k} type={curve} data={data} xAxisId="b" yAxisId="l" dataKey="m" stroke={color} strokeWidth={width} strokeDasharray={dash} dot={false} activeDot={false} isAnimationActive={false} legendType="none" />
);

function CtPanel({ top, bottom, s10, s50, s265, t10, t50, t265 }: any) {
  return (
    <Frame top={top} bottom={bottom}>
      {axes([-2, 4.5], ctTicks, { xSize: [-27, -22], ySize: -37, yLabels: true, yMargin: 61 })}
      {grid(ctTicks)}
      {spanMarks()}
      {bandEl("265", bandRows(s265, 0.11), "#d0606a", 0.65, "monotone")}
      {bandEl("50", bandRows(s50), "#a6a6a6", 0.9)}
      {bandEl("10", bandRows(s10), "#a5c7e3", 0.9)}
      {lineEl("t265", trendRows(t265), "#c4505c", 4, "44 26")}
      {lineEl("t50", trendRows(t50), "#707070", 4, "44 26")}
      {lineEl("t10", trendRows(t10), "#5b9bd0", 4, "44 26")}
      {lineEl("265", trendRows(s265), "#b02a38", 3, undefined, "monotone")}
      {lineEl("50", trendRows(s50), "#616161", 2.5)}
      {lineEl("10", trendRows(s10), "#4a8cc4", 2.5)}
    </Frame>
  );
}

function MldPanel({ top, bottom, rows }: any) {
  return (
    <Frame top={top} bottom={bottom}>
      {axes([-369, 0], mldTicks, { xSize: [22, 22], ySize: 24, yLabels: true, yMargin: 22 })}
      {grid(mldTicks)}
      {spanMarks()}
      {bandEl("m", bandRows(rows), "#a5c7e3", 0.9)}
      {lineEl("m", trendRows(rows), "#4a8cc4", 2.5)}
    </Frame>
  );
}

function Txt({ x, y, size, color, weight = 400, family = "DejaVu Sans", rotate = false, children }: any) {
  return (
    <div style={{ position: "absolute", left: x, top: y, fontSize: size, color, fontWeight: weight, fontFamily: family, lineHeight: 1, whiteSpace: "nowrap", transform: rotate ? "translate(-50%,-50%) rotate(-90deg)" : "translateY(-50%)" }}>
      {children}
    </div>
  );
}

function Badge({ x, y, children }: any) {
  return (
    <div style={{ position: "absolute", left: x - 52, top: y - 52, width: 104, height: 104, borderRadius: 52, background: "#000", color: "#fff", fontFamily: "Lato", fontWeight: 900, fontSize: 84, lineHeight: "104px", textAlign: "center", boxShadow: "3px 6px 5px rgba(0,0,0,0.45)" }}>
      {children}
    </div>
  );
}

function DepthLabels({ y }: { y: number }) {
  return (
    <>
      <Txt x={291} y={y} size={48} color="#5a96c8">10 m</Txt>
      <Txt x={446} y={y} size={48} color="#707070">50 m</Txt>
      <Txt x={602} y={y} size={48} color="#b03c4a">265 m</Txt>
    </>
  );
}

export default function App() {
  return (
    <div style={{ position: "absolute", left: 0, top: 0, width: 3993, height: 2318, background: "#fff", overflow: "hidden" }}>
      <div style={{ position: "absolute", left: 48, top: 0, width: 3945, height: 28, background: "linear-gradient(90deg,#dfe8f5,#cfe4fb)" }} />
      <div style={{ position: "absolute", left: 48, top: 0, width: 28, height: 2318, background: "#deebf9" }} />
      <div style={{ position: "absolute", left: -6, top: 892, width: 20, height: 310, border: "3px solid #333", boxShadow: "2px 2px 5px rgba(0,0,0,0.4)", background: "#fff" }} />

      <Badge x={550} y={124}>A</Badge>
      <Txt x={640} y={128} size={104} color="#000" weight={700} family="Lato">Pre-2011</Txt>
      <Badge x={1730} y={124}>B</Badge>
      <Txt x={1813} y={128} size={108.5} color="#000" weight={700} family="Lato">Post-2011: more variable conditions</Txt>

      <Txt x={153} y={760} size={94} color="#3380bf" weight={700} family="Lato" rotate>Yermak Plateau (YP)</Txt>
      <Txt x={153} y={1800} size={94} color="#c01f00" weight={700} family="Lato" rotate>Continental Slope (CS)</Txt>

      <Strip top={323} bottom={409} cells={ypStrip} />
      <CtPanel top={454.5} bottom={804} s10={yp10} s50={yp50} s265={yp265} t10={ypTrend10} t50={ypTrend50} t265={ypTrend265} />
      <MldPanel top={861} bottom={1207} rows={ypMld} />

      <Strip top={1367} bottom={1454} cells={csStrip} />
      <CtPanel top={1494} bottom={1843} s10={cs10} s50={cs50} s265={cs265} t10={csTrend10} t50={csTrend50} t265={csTrend265} />
      <MldPanel top={1900} bottom={2246} rows={csMld} />

      <DepthLabels y={510} />
      <DepthLabels y={1548} />
      <Txt x={3866} y={633} size={48} color="#444" rotate>CT (°C)</Txt>
      <Txt x={3946} y={1037} size={48} color="#444" rotate>MLD (m)</Txt>
      <Txt x={3866} y={1672} size={48} color="#444" rotate>CT (°C)</Txt>
      <Txt x={3946} y={2076} size={48} color="#444" rotate>MLD (m)</Txt>

      <div style={{ position: "absolute", left: plotLeft, top: 102 }}>
        <ComposedChart width={plotWidth} height={2134} data={[]} margin={{ left: 0, right: 0, top: 0, bottom: 0 }}>
          <XAxis xAxisId="o" type="number" dataKey="x" domain={[2007, xEnd]} allowDataOverflow hide />
          <YAxis yAxisId="o" type="number" domain={[0, 1]} allowDataOverflow hide />
          <ReferenceLine xAxisId="o" yAxisId="o" x={2011.44} stroke="#000" strokeWidth={11} strokeDasharray="51 38" />
        </ComposedChart>
      </div>
    </div>
  );
}
